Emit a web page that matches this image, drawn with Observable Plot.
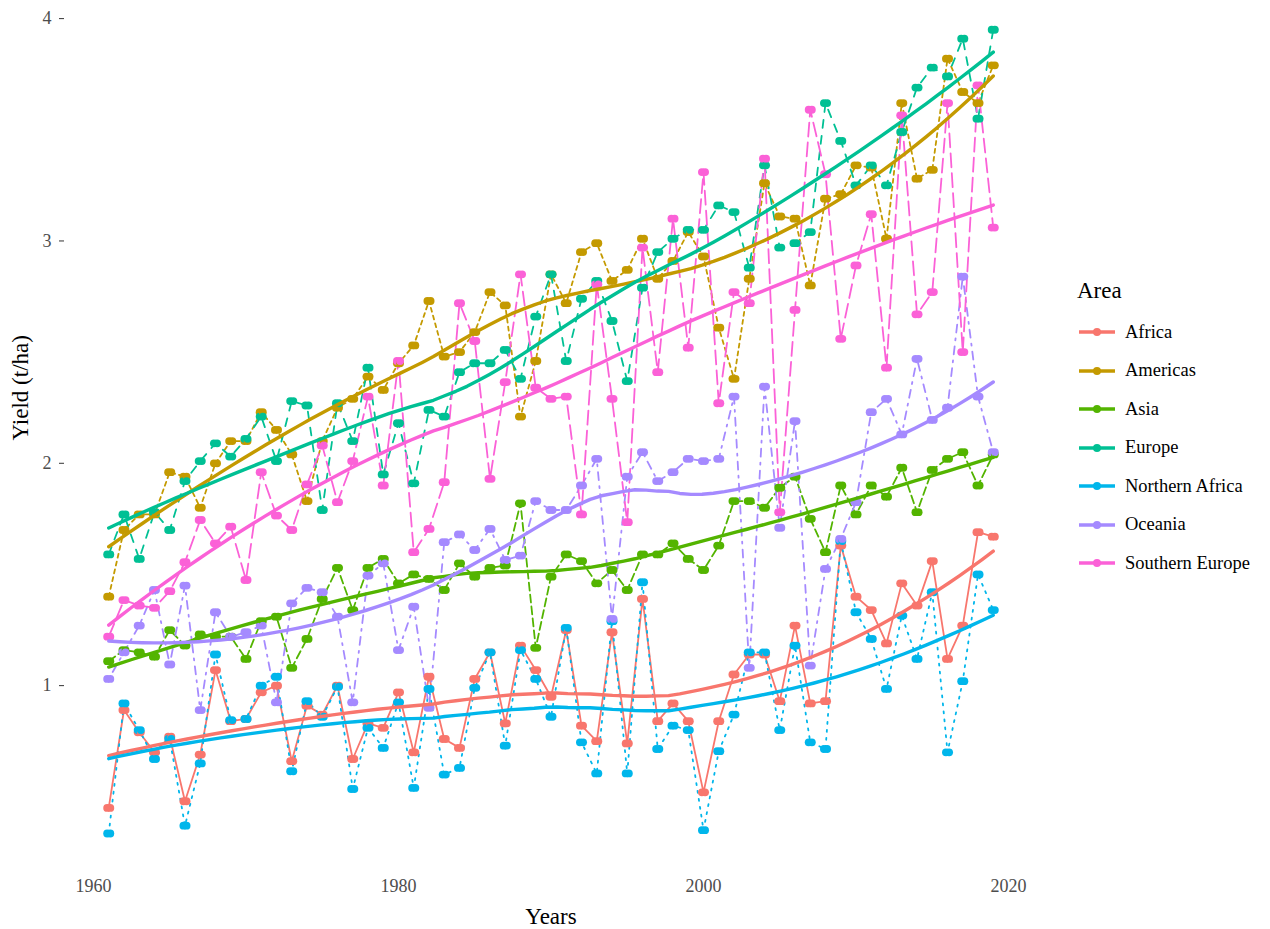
<!DOCTYPE html>
<html><head><meta charset="utf-8">
<script src="https://cdn.jsdelivr.net/npm/d3@7"></script>
<script src="https://cdn.jsdelivr.net/npm/@observablehq/plot@0.6"></script>
<style>
body{margin:0;background:#fff;font-family:"Liberation Serif","Times New Roman",serif;}
#wrap{position:relative;width:1270px;height:929px;overflow:hidden;}
#legend{position:absolute;left:1077px;top:274px;font-family:"Liberation Serif",serif;color:#000;}
#legend .title{font-size:23px;height:39px;line-height:34px;}
#legend .item{display:flex;align-items:center;height:38.5px;}
#legend .item span{font-size:18.5px;margin-left:8px;}
</style></head><body><div id="wrap"><div id="legend"></div></div>
<script>
const years = [1961,1962,1963,1964,1965,1966,1967,1968,1969,1970,1971,1972,1973,1974,1975,1976,1977,1978,1979,1980,
1981,1982,1983,1984,1985,1986,1987,1988,1989,1990,1991,1992,1993,1994,1995,1996,1997,1998,1999,2000,
2001,2002,2003,2004,2005,2006,2007,2008,2009,2010,2011,2012,2013,2014,2015,2016,2017,2018,2019];
const areas = ["Africa","Americas","Asia","Europe","Northern Africa","Oceania","Southern Europe"];
const colors = ["#F8766D","#C49A00","#53B400","#00C094","#00B6EB","#A58AFF","#FB61D7"];
const dashes = [null,"4,4","8,4","8,8","2,6","2,6,8,6","14,6"];
const xTicks = [1960,1980,2000,2020];
const yTicks = [1,2,3,4];

const africa = [0.45,0.89,0.79,0.70,0.77,0.48,0.69,1.07,0.84,0.85,
0.97,1.00,0.66,0.91,0.87,1.00,0.67,0.83,0.81,0.97,
0.70,1.04,0.76,0.72,1.03,1.15,0.83,1.18,1.07,0.95,
1.25,0.82,0.75,1.24,0.74,1.39,0.84,0.92,0.84,0.52,
0.84,1.05,1.14,1.14,0.93,1.27,0.92,0.93,1.63,1.40,
1.34,1.19,1.46,1.36,1.56,1.12,1.27,1.69,1.67];
const americas = [1.40,1.70,1.77,1.77,1.96,1.94,1.80,2.00,2.10,2.10,
2.23,2.15,2.04,1.83,2.10,2.25,2.29,2.39,2.33,2.45,
2.53,2.73,2.48,2.50,2.59,2.77,2.71,2.21,2.46,2.85,
2.72,2.95,2.99,2.82,2.87,3.01,2.83,2.91,3.04,2.93,
2.61,2.38,2.83,3.26,3.11,3.10,2.80,3.19,3.21,3.34,
3.33,3.01,3.62,3.28,3.32,3.82,3.67,3.62,3.79];
const asia = [1.11,1.16,1.15,1.13,1.25,1.18,1.23,1.22,1.22,1.12,
1.29,1.31,1.08,1.21,1.39,1.53,1.34,1.53,1.57,1.46,
1.50,1.48,1.43,1.55,1.49,1.53,1.54,1.82,1.17,1.49,
1.59,1.56,1.46,1.52,1.43,1.59,1.59,1.64,1.57,1.52,
1.63,1.83,1.83,1.80,1.89,1.94,1.75,1.60,1.90,1.77,
1.90,1.85,1.98,1.78,1.97,2.02,2.05,1.90,2.04];
const europe = [1.59,1.77,1.57,1.78,1.70,1.92,2.01,2.09,2.03,2.11,
2.21,2.01,2.28,2.26,1.79,2.27,2.10,2.43,1.95,2.18,
1.91,2.24,2.21,2.41,2.45,2.45,2.51,2.38,2.66,2.85,
2.46,2.74,2.82,2.64,2.37,2.79,2.95,3.01,3.05,3.05,
3.16,3.13,2.88,3.34,2.97,2.99,3.04,3.62,3.45,3.25,
3.34,3.25,3.49,3.69,3.78,3.74,3.91,3.55,3.95];
const northernAfrica = [0.335,0.92,0.80,0.67,0.76,0.37,0.65,1.14,0.845,0.85,
1.00,1.04,0.615,0.93,0.86,0.995,0.535,0.81,0.72,0.925,
0.54,0.985,0.60,0.63,0.99,1.15,0.73,1.16,1.03,0.86,
1.26,0.745,0.605,1.29,0.605,1.465,0.715,0.82,0.80,0.35,
0.705,0.87,1.15,1.15,0.80,1.18,0.745,0.715,1.65,1.33,
1.21,0.985,1.315,1.12,1.42,0.70,1.02,1.50,1.34];
const oceania = [1.03,1.15,1.27,1.43,1.095,1.45,0.89,1.33,1.22,1.24,
1.27,0.925,1.37,1.44,1.42,1.31,0.925,1.495,1.55,1.16,
1.355,0.90,1.645,1.68,1.61,1.705,1.565,1.585,1.83,1.79,
1.79,1.90,2.02,1.30,1.94,2.05,1.92,1.96,2.02,2.01,
2.02,2.30,1.08,2.345,1.71,2.19,1.09,1.525,1.66,1.825,
2.23,2.29,2.13,2.47,2.195,2.25,2.84,2.30,2.05];
const southernEurope = [1.22,1.385,1.36,1.35,1.425,1.555,1.745,1.64,1.715,1.475,
1.96,1.765,1.70,1.905,2.08,1.825,2.01,2.30,1.90,2.46,
1.60,1.705,1.915,2.72,2.55,1.93,2.365,2.85,2.34,2.29,
2.30,1.77,2.805,2.29,1.735,2.97,2.41,3.10,2.52,3.31,
2.27,2.77,2.72,3.37,1.78,2.69,3.59,3.30,2.56,2.89,
3.12,2.43,3.565,2.67,2.77,3.62,2.50,3.70,3.06];

const seriesValues = [africa, americas, asia, europe, northernAfrica, oceania, southernEurope];

// long table
const table = [];
areas.forEach((a, k) => years.forEach((yr, i) => table.push({year: yr, area: a, value: seriesValues[k][i]})));

// loess (span 0.75, degree 2, tricube) like ggplot's geom_smooth default
function solve3(A, b) {
  const M = A.map((r, i) => [...r, b[i]]);
  for (let c = 0; c < 3; c++) {
    let p = c;
    for (let r = c + 1; r < 3; r++) if (Math.abs(M[r][c]) > Math.abs(M[p][c])) p = r;
    [M[c], M[p]] = [M[p], M[c]];
    for (let r = c + 1; r < 3; r++) {
      const f = M[r][c] / M[c][c];
      for (let k = c; k < 4; k++) M[r][k] -= f * M[c][k];
    }
  }
  const x = [0, 0, 0];
  for (let r = 2; r >= 0; r--) {
    let s = M[r][3];
    for (let k = r + 1; k < 3; k++) s -= M[r][k] * x[k];
    x[r] = s / M[r][r];
  }
  return x;
}
function loess(xs, ys, span, xEval) {
  const n = xs.length, q = Math.floor(n * span);
  return xEval.map(x0 => {
    const d = xs.map(x => Math.abs(x - x0));
    const h = [...d].sort((a, b) => a - b)[q - 1];
    const A = [[0,0,0],[0,0,0],[0,0,0]], B = [0,0,0];
    for (let i = 0; i < n; i++) {
      const u = d[i] / h;
      if (u >= 1) continue;
      const w = Math.pow(1 - u * u * u, 3);
      const t = (xs[i] - x0) / h;
      const v = [1, t, t * t];
      for (let a = 0; a < 3; a++) {
        B[a] += w * v[a] * ys[i];
        for (let b = 0; b < 3; b++) A[a][b] += w * v[a] * v[b];
      }
    }
    return solve3(A, B)[0];
  });
}
const xs0 = years[0], xs1 = years[years.length - 1];
const evalX = d3.range(80).map(i => xs0 + (xs1 - xs0) * i / 79);
const smooth = [];
areas.forEach((a, k) => {
  const fit = loess(years, seriesValues[k], 0.75, evalX);
  evalX.forEach((x, i) => smooth.push({year: x, area: a, value: fit[i]}));
});

const font = '"Liberation Serif","Times New Roman",serif';
const marks = [];
areas.forEach((a, k) => {
  marks.push(Plot.line(table.filter(d => d.area === a), {
    x: "year", y: "value", stroke: colors[k], strokeWidth: 1.8,
    strokeDasharray: dashes[k] || undefined
  }));
});
[-1.6, 1.6].forEach(dx => marks.push(Plot.dot(table, {x: "year", y: "value", fill: "area", r: 3.9, dx})));
marks.push(Plot.line(smooth, {x: "year", y: "value", stroke: "area", z: "area", strokeWidth: 3.4}));

const chart = Plot.plot({
  width: 1270, height: 929,
  marginLeft: 64, marginRight: 233, marginTop: 7, marginBottom: 56,
  style: {fontFamily: font, background: "#fff"},
  x: {domain: [1958.1, 2021.9]},
  y: {domain: [0.155, 4.05]},
  color: {domain: areas, range: colors},
  marks: [
    Plot.axisX({ticks: xTicks, tickFormat: d => String(d), tickSize: 0, tickPadding: 6, fontSize: 18, fill: "#4d4d4d", label: null}),
    Plot.axisY({ticks: yTicks, tickFormat: d => String(d), tickSize: 5, tickPadding: 8, fontSize: 18, fill: "#4d4d4d", stroke: "#333", label: null}),
    Plot.text(["Years"], {frameAnchor: "bottom", dy: 50, fontSize: 23, fill: "#000", fontFamily: font}),
    Plot.text(["Yield (t/ha)"], {frameAnchor: "left", dx: -44, rotate: -90, fontSize: 23, fill: "#000", fontFamily: font}),
    ...marks
  ]
});
document.getElementById("wrap").prepend(chart);

// legend
const lg = d3.select("#legend");
lg.append("div").attr("class", "title").text("Area");
areas.forEach((a, k) => {
  const it = lg.append("div").attr("class", "item");
  const s = it.append("svg").attr("width", 40).attr("height", 20);
  s.append("line").attr("x1", 2).attr("x2", 38).attr("y1", 10).attr("y2", 10)
    .attr("stroke", colors[k]).attr("stroke-width", 3.4);
  s.append("circle").attr("cx", 20).attr("cy", 10).attr("r", 4).attr("fill", colors[k]);
  it.append("span").text(a);
});
</script></body></html>
